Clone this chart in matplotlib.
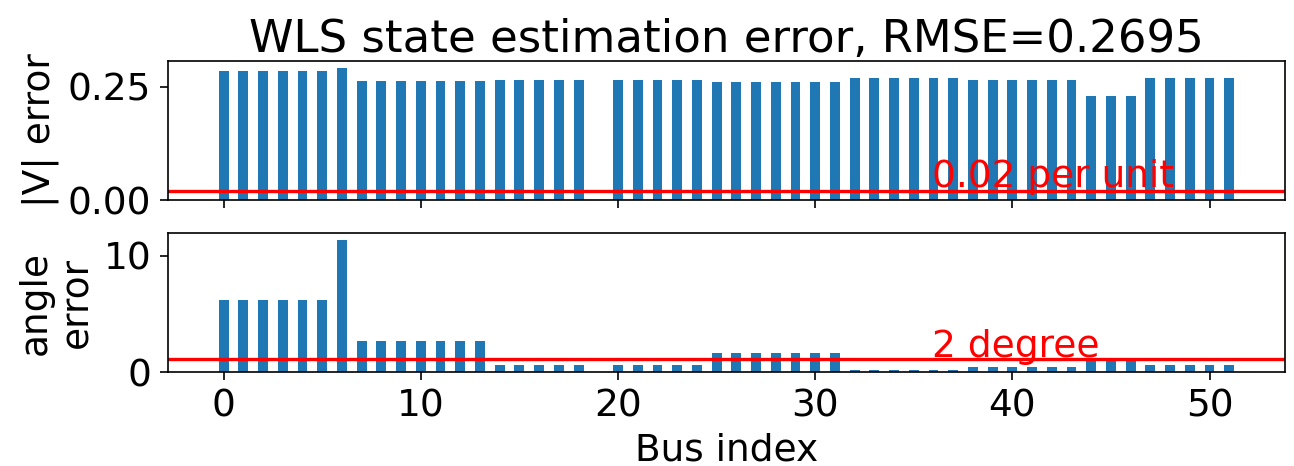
import numpy as np
import matplotlib
matplotlib.use('Agg')
import matplotlib.pyplot as plt

# per-bus estimation errors
bus_index = list(range(52))
v_error = [
  0.285, 0.285, 0.285, 0.285, 0.285, 0.285, 0.292,
  0.262, 0.262, 0.262, 0.262, 0.262, 0.262, 0.262,
  0.265, 0.265, 0.265, 0.265, 0.265, 0.0,
  0.265, 0.265, 0.265, 0.265, 0.265,
  0.261, 0.261, 0.261, 0.261, 0.261, 0.261, 0.261,
  0.269, 0.269, 0.269, 0.269, 0.269, 0.269,
  0.265, 0.265, 0.265, 0.265, 0.265, 0.265,
  0.230, 0.230, 0.230,
  0.269, 0.269, 0.269, 0.269, 0.269,
]
angle_error = [
  6.19, 6.19, 6.19, 6.19, 6.19, 6.19, 11.38,
  2.64, 2.64, 2.64, 2.64, 2.64, 2.64, 2.64,
  0.62, 0.62, 0.62, 0.62, 0.62, 0.0,
  0.62, 0.62, 0.62, 0.62, 0.62,
  1.66, 1.66, 1.66, 1.66, 1.66, 1.66, 1.66,
  0.17, 0.17, 0.17, 0.17, 0.17, 0.17,
  0.45, 0.45, 0.45, 0.45, 0.45, 0.45,
  1.15, 1.15, 1.15,
  0.60, 0.60, 0.60, 0.60, 0.60,
]
rmse = 0.2695
v_threshold = 0.02
angle_threshold = 0.02 * 180 / np.pi

plt.rcParams['font.size'] = 27
plt.rcParams['axes.linewidth'] = 1.2
plt.rcParams['xtick.major.size'] = 5.6
plt.rcParams['ytick.major.size'] = 5.6
plt.rcParams['xtick.major.width'] = 1.2
plt.rcParams['ytick.major.width'] = 1.2
plt.rcParams['xtick.major.pad'] = 6
plt.rcParams['ytick.major.pad'] = 6.5
plt.rcParams['axes.labelpad'] = 6

fig = plt.figure(figsize=(12.94, 4.66), dpi=100)
ax1 = fig.add_axes([0.1298, 0.5708, 0.8632, 0.2983])
ax2 = fig.add_axes([0.1298, 0.2017, 0.8632, 0.2983], sharex=ax1)

ax1.bar(bus_index, v_error, width=0.5)
ax1.axhline(v_threshold, color='red', linewidth=2.4)
ax1.text(35.9, 0.028, '0.02 per unit', color='red')
ax1.set_yticks([0.0, 0.25])
ax1.set_yticklabels(['0.00', '0.25'])
ax1.set_ylabel('|V| error')
ax1.set_title('WLS state estimation error, RMSE=%.4f' % rmse, fontsize=32.4)
ax1.tick_params(labelbottom=False)

ax2.bar(bus_index, angle_error, width=0.5)
ax2.axhline(angle_threshold, color='red', linewidth=2.4)
ax2.text(35.9, 1.3, '2 degree', color='red')
ax2.set_yticks([0, 10])
ax2.set_xticks([0, 10, 20, 30, 40, 50])
ax2.set_ylabel('angle\nerror')
ax2.set_xlabel('Bus index')

fig.savefig('out.png', dpi=100)
